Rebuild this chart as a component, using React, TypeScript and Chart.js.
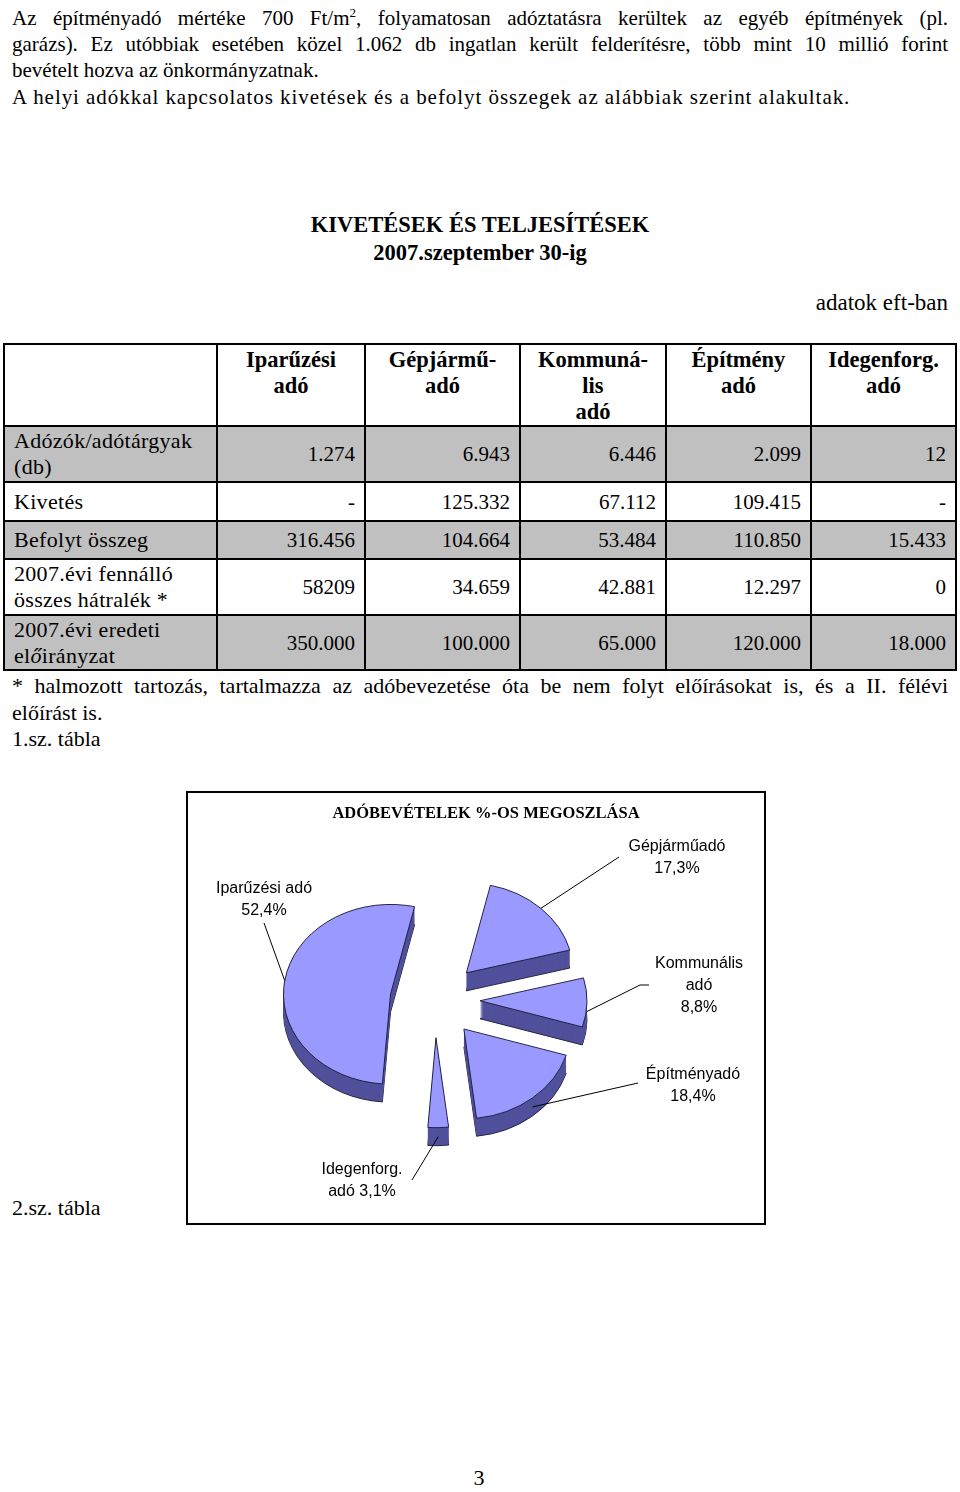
import React, { useEffect, useRef } from "react";
import { Chart, registerables } from "chart.js";

Chart.register(...registerables);

// ---------- chart data ----------
const sliceLabels = ["Gépjárműadó", "Kommunális adó", "Építményadó", "Idegenforg. adó", "Iparűzési adó"];
const slicePercents = [17.3, 8.8, 18.4, 3.1, 52.4];
const sliceLabelLines = [
  ["Gépjárműadó", "17,3%"],
  ["Kommunális", "adó", "8,8%"],
  ["Építményadó", "18,4%"],
  ["Idegenforg.", "adó 3,1%"],
  ["Iparűzési adó", "52,4%"],
];
const chartTitle = "ADÓBEVÉTELEK %-OS MEGOSZLÁSA";

// ---------- table data ----------
const tableHeaders = [
  ["Iparűzési", "adó"],
  ["Gépjármű-", "adó"],
  ["Kommuná-", "lis", "adó"],
  ["Építmény", "adó"],
  ["Idegenforg.", "adó"],
];
const rowLabels = [
  ["Adózók/adótárgyak", "(db)"],
  ["Kivetés"],
  ["Befolyt összeg"],
  ["2007.évi fennálló", "összes hátralék *"],
  ["2007.évi eredeti", "előirányzat"],
];
const taxpayers = ["1.274", "6.943", "6.446", "2.099", "12"];
const assessed = ["-", "125.332", "67.112", "109.415", "-"];
const collected = ["316.456", "104.664", "53.484", "110.850", "15.433"];
const arrears = ["58209", "34.659", "42.881", "12.297", "0"];
const planned = ["350.000", "100.000", "65.000", "120.000", "18.000"];
const tableRows = [taxpayers, assessed, collected, arrears, planned];

// ---------- styling / layout ----------
const TOP = "#9999ff";
const SIDE = "#50509c";
const EDGE = "#1a1a33";
const K = 0.84; // vertical flattening
const DEPTH = 18;
const EXPLODE = 45;
const CANVAS_W = 576;
const CANVAS_H = 430;
const labelLayout = [
  { x: 489, y: 54, lx: 431, ly: 64, ex: null },
  { x: 511, y: 171, lx: 461, ly: 192, ex: 452 },
  { x: 505, y: 282, lx: 450, ly: 290, ex: null },
  { x: 174, y: 377, lx: 224, ly: 387, ex: null },
  { x: 76, y: 96, lx: 76, ly: 130, ex: null },
];
const LABEL_LINE_H = 22;

const pie3d = {
  id: "pie3d",
  beforeDatasetsDraw(chart: any) {
    const meta = chart.getDatasetMeta(0);
    const arcs = meta.data as any[];
    if (!arcs.length) return;
    const ctx = chart.ctx as CanvasRenderingContext2D;
    const cy = arcs[0].y;
    ctx.save();
    ctx.translate(0, cy);
    ctx.scale(1, K);
    ctx.translate(0, -cy);
    const drawArc = (el: any, dy: number, over: any) => {
      const mid = (el.startAngle + el.endAngle) / 2;
      ctx.save();
      ctx.translate(Math.cos(mid) * EXPLODE, Math.sin(mid) * EXPLODE + dy / K);
      const o = el.options;
      if (over) el.options = Object.assign({}, o, over);
      el.draw(ctx);
      el.options = o;
      ctx.restore();
    };
    for (let i = DEPTH; i >= 1; i--) {
      arcs.forEach((el) =>
        drawArc(el, i, {
          backgroundColor: SIDE,
          borderColor: i === DEPTH ? EDGE : SIDE,
          borderWidth: i === DEPTH ? 1 : 0,
        })
      );
    }
    arcs.forEach((el) => drawArc(el, 0, null));
    ctx.restore();
    return false;
  },
  afterDraw(chart: any) {
    const meta = chart.getDatasetMeta(0);
    const arcs = meta.data as any[];
    const ctx = chart.ctx as CanvasRenderingContext2D;
    ctx.save();
    ctx.fillStyle = "#000";
    ctx.font = "bold 16.5px 'Liberation Serif', serif";
    ctx.textAlign = "center";
    ctx.textBaseline = "middle";
    ctx.fillText(chartTitle, 298, 21);
    ctx.font = "16px 'Liberation Sans', Arial, sans-serif";
    arcs.forEach((el, i) => {
      const lay = labelLayout[i];
      const lines = sliceLabelLines[i];
      lines.forEach((t, j) => ctx.fillText(t, lay.x, lay.y + j * LABEL_LINE_H));
      const mid = (el.startAngle + el.endAngle) / 2;
      const r = el.outerRadius + EXPLODE;
      const px = el.x + Math.cos(mid) * r;
      const py = el.y + Math.sin(mid) * r * K + (Math.sin(mid) > 0 ? DEPTH / 2 : 0);
      ctx.beginPath();
      ctx.strokeStyle = "#000";
      ctx.lineWidth = 1;
      ctx.moveTo(lay.lx, lay.ly);
      if (lay.ex !== null) ctx.lineTo(lay.ex, lay.ly);
      ctx.lineTo(px, py);
      ctx.stroke();
    });
    ctx.restore();
  },
};

function PieChart() {
  const ref = useRef<HTMLCanvasElement | null>(null);
  useEffect(() => {
    if (!ref.current) return;
    const chart = new Chart(ref.current, {
      type: "pie",
      data: {
        labels: sliceLabels,
        datasets: [
          {
            data: slicePercents,
            backgroundColor: TOP,
            borderColor: EDGE,
            borderWidth: 1,
            radius: 107,
            clip: false,
          } as any,
        ],
      },
      options: {
        responsive: false,
        animation: false,
        rotation: 13,
        radius: 107,
        events: [],
        layout: { padding: { left: 40, right: 122, top: 30, bottom: 46 } },
        plugins: {
          legend: { display: false },
          tooltip: { enabled: false },
          title: { display: false },
        },
      } as any,
      plugins: [pie3d as any],
    });
    return () => chart.destroy();
  }, []);
  return <canvas ref={ref} width={CANVAS_W} height={CANVAS_H} style={{ display: "block" }} />;
}

const abs = (left: number, top: number, extra: React.CSSProperties = {}): React.CSSProperties => ({
  position: "absolute",
  left,
  top,
  lineHeight: "26px",
  whiteSpace: "nowrap",
  ...extra,
});
const justified: React.CSSProperties = { width: 936, textAlign: "justify", textAlignLast: "justify", whiteSpace: "normal" };

const colWidths = [213, 148, 155, 146, 145, 145];
const rowHeights = [81, 56, 39, 38, 56, 55];
const cellBorder = "2px solid #000";

export default function App() {
  return (
    <div
      style={{
        position: "absolute",
        left: 0,
        top: 0,
        width: 960,
        height: 1492,
        background: "#fff",
        color: "#000",
        fontFamily: "'Liberation Serif', 'Times New Roman', serif",
        fontSize: 21,
        overflow: "hidden",
      }}
    >
      <div style={abs(12, 5, justified)}>
        Az építményadó mértéke 700 Ft/m<sup style={{ fontSize: 13, lineHeight: 0 }}>2</sup>, folyamatosan adóztatásra kerültek az egyéb építmények (pl.
      </div>
      <div style={abs(12, 31, justified)}>
        garázs). Ez utóbbiak esetében közel 1.062 db ingatlan került felderítésre, több mint 10 millió forint
      </div>
      <div style={abs(12, 57)}>bevételt hozva az önkormányzatnak.</div>
      <div style={abs(12, 84, { letterSpacing: "0.95px" })}>
        A helyi adókkal kapcsolatos kivetések és a befolyt összegek az alábbiak szerint alakultak.
      </div>

      <div style={abs(0, 212, { width: 960, textAlign: "center", fontWeight: "bold", fontSize: 22.5 })}>
        KIVETÉSEK ÉS TELJESÍTÉSEK
      </div>
      <div style={abs(0, 240, { width: 960, textAlign: "center", fontWeight: "bold", fontSize: 22.5 })}>
        2007.szeptember 30-ig
      </div>
      <div style={abs(0, 290, { width: 948, textAlign: "right", fontSize: 23 })}>adatok eft-ban</div>

      <table
        style={{
          position: "absolute",
          left: 3,
          top: 343,
          width: 952,
          borderCollapse: "collapse",
          tableLayout: "fixed",
          fontSize: 21,
          lineHeight: "26px",
        }}
      >
        <colgroup>
          {colWidths.map((w, i) => (
            <col key={i} style={{ width: w }} />
          ))}
        </colgroup>
        <tbody>
          <tr style={{ height: rowHeights[0] }}>
            <td style={{ border: cellBorder }} />
            {tableHeaders.map((h, i) => (
              <td
                key={i}
                style={{
                  border: cellBorder,
                  textAlign: "center",
                  verticalAlign: "top",
                  fontWeight: "bold",
                  fontSize: 22.5,
                  padding: "2px 0 0 0",
                }}
              >
                {h.map((l, j) => (
                  <div key={j}>{l}</div>
                ))}
              </td>
            ))}
          </tr>
          {tableRows.map((vals, r) => {
            const bg = r % 2 === 0 ? "#c0c0c0" : "#fff";
            return (
              <tr key={r} style={{ height: rowHeights[r + 1], background: bg }}>
                <td style={{ border: cellBorder, padding: "0 0 0 9px", verticalAlign: "middle", fontSize: 22, letterSpacing: "0.3px" }}>
                  {rowLabels[r].map((l, j) => (
                    <div key={j}>
                      {l === "előirányzat" ? (
                        <>
                          el<i>ő</i>irányzat
                        </>
                      ) : (
                        l
                      )}
                    </div>
                  ))}
                </td>
                {vals.map((v, i) => (
                  <td key={i} style={{ border: cellBorder, textAlign: "right", padding: "0 9px 0 0", verticalAlign: "middle" }}>
                    {v}
                  </td>
                ))}
              </tr>
            );
          })}
        </tbody>
      </table>

      <div style={abs(12, 673, { ...justified, fontSize: 22 })}>
        * halmozott tartozás, tartalmazza az adóbevezetése óta be nem folyt előírásokat is, és a II. félévi
      </div>
      <div style={abs(12, 700, { fontSize: 22 })}>előírást is.</div>
      <div style={abs(12, 726, { fontSize: 22 })}>1.sz. tábla</div>

      <div
        style={{
          position: "absolute",
          left: 186,
          top: 791,
          width: 580,
          height: 434,
          border: "2px solid #000",
          boxSizing: "border-box",
          background: "#fff",
        }}
      >
        <PieChart />
      </div>

      <div style={abs(12, 1195, { fontSize: 22 })}>2.sz. tábla</div>
      <div style={abs(0, 1465, { width: 958, textAlign: "center", fontSize: 22 })}>3</div>
    </div>
  );
}
